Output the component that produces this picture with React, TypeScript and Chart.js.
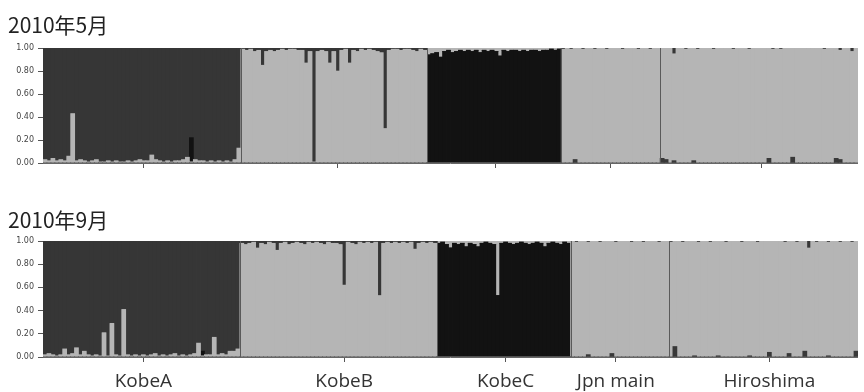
import React, { useEffect, useRef } from "react";
import { Chart, registerables } from "chart.js";
Chart.register(...registerables);

// ---------- labels ----------
const groupNames = ["KobeA", "KobeB", "KobeC", "Jpn main", "Hiroshima"];
const titleMay = "2010年5月";
const titleSep = "2010年9月";
const yTickValues = [0, 0.2, 0.4, 0.6, 0.8, 1.0];

// ---------- May 2010 (ancestry proportions of minor clusters per individual) ----------
const mayKobeA_light = [
  .03, .02, .04, .02, .03, .02, .06, .43, .02, .03,
  .02, .01, .02, .03, .01, .01, .02, .01, .02, .01,
  .01, .02, .01, .02, .03, .02, .02, .07, .03, .02,
  .01, .02, .01, .02, .02, .03, .05, .01, .03, .02,
  .02, .01, .02, .01, .02, .01, .02, .01, .03, .13];
const mayKobeA_black = [
  0, 0, 0, 0, 0, 0, 0, 0, 0, 0,
  0, 0, 0, 0, 0, 0, 0, 0, 0, 0,
  0, 0, 0, 0, 0, 0, 0, 0, 0, 0,
  0, 0, 0, 0, 0, 0, 0, .21, 0, 0,
  0, 0, 0, 0, 0, 0, 0, 0, 0, 0];
const mayKobeB_dark = [
  .01, .02, .01, .03, .02, .15, .03, .02, .03, .02,
  .01, .02, .01, .01, .02, .02, .13, .03, .99, .03,
  .02, .03, .13, .03, .20, .02, .01, .13, .02, .03,
  .01, .02, .01, .02, .03, .04, .70, .02, .01, .01,
  .02, .01, .01, .02, .03, .01, .02];
const mayKobeC_lightTop = [
  .06, .05, .04, .08, .03, .02, .04, .03, .02, .03,
  .02, .03, .02, .04, .02, .03, .02, .03, .07, .02,
  .03, .02, .02, .03, .02, .03, .02, .02, .03, .02,
  .02, .01, .02, .01];
const mayJpn_darkLow = [
  0, 0, 0, .03, 0, 0, 0, 0, 0, 0,
  0, 0, 0, 0, 0, 0, 0, 0, 0, 0,
  0, 0, 0, 0, 0];
const mayJpn_dark = [
  .01, 0, .01, 0, 0, .01, 0, 0, .01, 0,
  0, .01, 0, 0, 0, .01, 0, 0, 0, .01,
  0, 0, .01, 0, 0];
const mayHiro_darkLow = [
  .04, .03, 0, .02, 0, 0, 0, 0, .02, 0,
  0, 0, 0, 0, 0, 0, 0, 0, 0, 0,
  0, 0, 0, 0, 0, 0, 0, .04, 0, 0,
  0, 0, 0, .05, 0, 0, 0, 0, 0, 0,
  0, 0, 0, 0, .04, .03, 0, 0, 0, 0];
const mayHiro_dark = [
  0, 0, 0, .05, 0, 0, .01, 0, 0, .01,
  0, 0, 0, .01, 0, 0, 0, 0, .01, 0,
  0, 0, .01, 0, 0, 0, 0, 0, .01, 0,
  .01, 0, 0, 0, 0, 0, 0, 0, 0, 0,
  0, .01, 0, 0, 0, .02, 0, 0, .03, 0];
const mayTickIdx = [25, 74, 114, 143, 181];

// ---------- September 2010 ----------
const sepKobeA_light = [
  .02, .03, .02, .01, .02, .07, .02, .03, .08, .02,
  .05, .02, .01, .02, .01, .21, .01, .29, .02, .01,
  .41, .02, .01, .02, .01, .02, .01, .02, .03, .01,
  .02, .01, .02, .03, .01, .02, .01, .02, .03, .12,
  .01, .02, .02, .17, .02, .03, .02, .05, .05, .07];
const sepKobeA_black = [
  0, 0, 0, 0, 0, 0, 0, 0, 0, 0,
  0, 0, 0, 0, 0, 0, 0, 0, 0, 0,
  0, 0, 0, 0, 0, 0, 0, 0, 0, 0,
  0, 0, 0, 0, 0, 0, 0, 0, 0, 0,
  .04, 0, 0, 0, 0, 0, 0, 0, 0, 0];
const sepKobeB_dark = [
  .02, .03, .02, .01, .06, .02, .03, .01, .02, .08,
  .02, .01, .03, .02, .01, .02, .03, .01, .02, .01,
  .02, .03, .01, .02, .02, .03, .38, .01, .02, .03,
  .01, .02, .01, .02, .01, .47, .02, .01, .02, .01,
  .02, .01, .02, .01, .07, .02, .01, .02, .01, .02];
const sepKobeC_lightTop = [
  .02, .01, .03, .06, .02, .03, .02, .05, .02, .03,
  .05, .02, .01, .02, .03, .47, .02, .01, .02, .03,
  .02, .01, .02, .03, .02, .01, .02, .05, .02, .01,
  .02, .03, .01, .02];
const sepJpn_darkLow = [
  0, 0, 0, 0, .02, 0, 0, 0, 0, 0,
  .03, 0, 0, 0, 0, 0, 0, 0, 0, 0,
  0, 0, 0, 0, 0];
const sepJpn_dark = [
  0, .01, 0, 0, .01, 0, 0, .01, 0, 0,
  0, .01, 0, 0, 0, .01, 0, 0, .01, 0,
  0, 0, .01, 0, 0];
const sepHiro_darkLow = [
  0, .09, 0, 0, 0, 0, .01, 0, 0, 0,
  0, 0, .01, 0, 0, 0, 0, 0, 0, 0,
  .01, 0, 0, 0, 0, .04, 0, 0, 0, 0,
  .03, 0, 0, 0, .05, 0, 0, 0, 0, 0,
  .01, 0, 0, 0, 0, 0, 0, .05];
const sepHiro_dark = [
  .01, 0, 0, .01, 0, 0, 0, .01, 0, 0,
  .01, 0, 0, 0, .01, 0, 0, 0, .01, 0,
  0, 0, .01, 0, 0, 0, 0, 0, 0, .01,
  0, 0, .01, 0, 0, .06, 0, .01, 0, 0,
  .01, 0, 0, .01, 0, 0, .01, 0];
const sepTickIdx = [25, 76, 117, 145, 184];

// ---------- build ----------
type Key = "darkLow" | "light" | "black" | "dark" | "lightTop";
const KEYS: Key[] = ["darkLow", "light", "black", "dark", "lightTop"];
const COLORS: Record<Key, string> = {
  darkLow: "#383838",
  light: "#b5b5b5",
  black: "#121212",
  dark: "#363636",
  lightTop: "#b5b5b5",
};
type Group = { main: Key; parts: Partial<Record<Key, number[]>> };

const mayGroups: Group[] = [
  { main: "dark", parts: { light: mayKobeA_light, black: mayKobeA_black } },
  { main: "light", parts: { dark: mayKobeB_dark } },
  { main: "black", parts: { lightTop: mayKobeC_lightTop } },
  { main: "light", parts: { darkLow: mayJpn_darkLow, dark: mayJpn_dark } },
  { main: "light", parts: { darkLow: mayHiro_darkLow, dark: mayHiro_dark } },
];
const sepGroups: Group[] = [
  { main: "dark", parts: { light: sepKobeA_light, black: sepKobeA_black } },
  { main: "light", parts: { dark: sepKobeB_dark } },
  { main: "black", parts: { lightTop: sepKobeC_lightTop } },
  { main: "light", parts: { darkLow: sepJpn_darkLow, dark: sepJpn_dark } },
  { main: "light", parts: { darkLow: sepHiro_darkLow, dark: sepHiro_dark } },
];

function build(groups: Group[]) {
  const series: Record<Key, number[]> = { darkLow: [], light: [], black: [], dark: [], lightTop: [] };
  const boundaries: number[] = [];
  let count = 0;
  groups.forEach((g, gi) => {
    const n = (Object.values(g.parts)[0] as number[]).length;
    for (let i = 0; i < n; i++) {
      let others = 0;
      KEYS.forEach((k) => {
        if (k === g.main) return;
        const v = g.parts[k] ? g.parts[k]![i] : 0;
        others += v;
        series[k].push(v);
      });
      series[g.main].push(Math.max(0, 1 - others));
    }
    count += n;
    if (gi < groups.length - 1) boundaries.push(count);
  });
  const labels = Array.from({ length: count }, (_, i) => String(i + 1));
  return { series, boundaries, labels };
}

const separatorPlugin = {
  id: "separators",
  afterDatasetsDraw(chart: any, _args: any, opts: any) {
    const xs = chart.scales.x;
    const area = chart.chartArea;
    const ctx = chart.ctx;
    ctx.save();
    ctx.strokeStyle = "#5a5a5a";
    ctx.lineWidth = 1;
    (opts.boundaries || []).forEach((b: number) => {
      const x = Math.round((xs.getPixelForValue(b - 1) + xs.getPixelForValue(b)) / 2) + 0.5;
      ctx.beginPath();
      ctx.moveTo(x, area.top);
      ctx.lineTo(x, area.bottom);
      ctx.stroke();
    });
    ctx.restore();
  },
};

function makeChart(
  canvas: HTMLCanvasElement,
  groups: Group[],
  title: string,
  tickIdx: number[],
  showLabels: boolean,
  titlePad: { top: number; bottom: number },
  xHeight: number
) {
  const { series, boundaries, labels } = build(groups);
  return new Chart(canvas, {
    type: "bar",
    data: {
      labels,
      datasets: KEYS.map((k) => ({
        label: k,
        data: series[k],
        backgroundColor: COLORS[k],
        borderWidth: 0,
        barPercentage: 1,
        categoryPercentage: 1,
        inflateAmount: 0.4,
      })),
    },
    options: {
      responsive: false,
      animation: false,
      devicePixelRatio: 1,
      layout: { padding: { left: 8, right: 6, top: 0, bottom: 0 } },
      plugins: {
        legend: { display: false },
        tooltip: { enabled: false },
        title: {
          display: true,
          text: title,
          align: "start",
          color: "#222",
          font: { family: "'Noto Sans CJK JP', 'Noto Sans', sans-serif", size: 21, weight: "normal", lineHeight: 1.2 },
          padding: titlePad,
        },
        separators: { boundaries },
      } as any,
      scales: {
        x: {
          stacked: true,
          grid: {
            display: true,
            drawOnChartArea: false,
            offset: false,
            tickLength: 5,
            tickColor: (c: any) => (tickIdx.includes(c.index) ? "#555" : "rgba(0,0,0,0)"),
          },
          border: { display: true, color: "#666", width: 1 },
          ticks: {
            autoSkip: false,
            maxRotation: 0,
            minRotation: 0,
            padding: 8,
            color: "#333",
            font: { family: "'Open Sans', sans-serif", size: 19 },
            callback: (_v: any, i: number) => {
              const k = tickIdx.indexOf(i);
              return showLabels && k >= 0 ? groupNames[k] : "";
            },
          },
          afterFit: (s: any) => {
            s.height = xHeight;
          },
        },
        y: {
          stacked: true,
          min: 0,
          max: 1,
          afterBuildTicks: (s: any) => {
            s.ticks = yTickValues.map((v) => ({ value: v }));
          },
          grid: { drawOnChartArea: false, tickLength: 5, tickColor: "#555" },
          border: { display: true, color: "#666", width: 1 },
          ticks: {
            padding: 4,
            color: "#444",
            font: { family: "'DejaVu Sans', sans-serif", size: 8 },
            callback: (v: any) => Number(v).toFixed(2),
          },
          afterFit: (s: any) => {
            s.width = 35;
          },
        },
      },
    },
    plugins: [separatorPlugin as any],
  });
}

export default function App() {
  const topRef = useRef<HTMLCanvasElement>(null);
  const botRef = useRef<HTMLCanvasElement>(null);
  useEffect(() => {
    const c1 = makeChart(topRef.current!, mayGroups, titleMay, mayTickIdx, false, { top: 12, bottom: 10.8 }, 17);
    const c2 = makeChart(botRef.current!, sepGroups, titleSep, sepTickIdx, true, { top: 27, bottom: 8.8 }, 35);
    return () => {
      c1.destroy();
      c2.destroy();
    };
  }, []);
  return (
    <div style={{ position: "absolute", left: 0, top: 0, width: 864, height: 392, background: "#fff" }}>
      <canvas ref={topRef} width={864} height={180} style={{ position: "absolute", left: 0, top: 0 }} />
      <canvas ref={botRef} width={864} height={212} style={{ position: "absolute", left: 0, top: 180 }} />
    </div>
  );
}
